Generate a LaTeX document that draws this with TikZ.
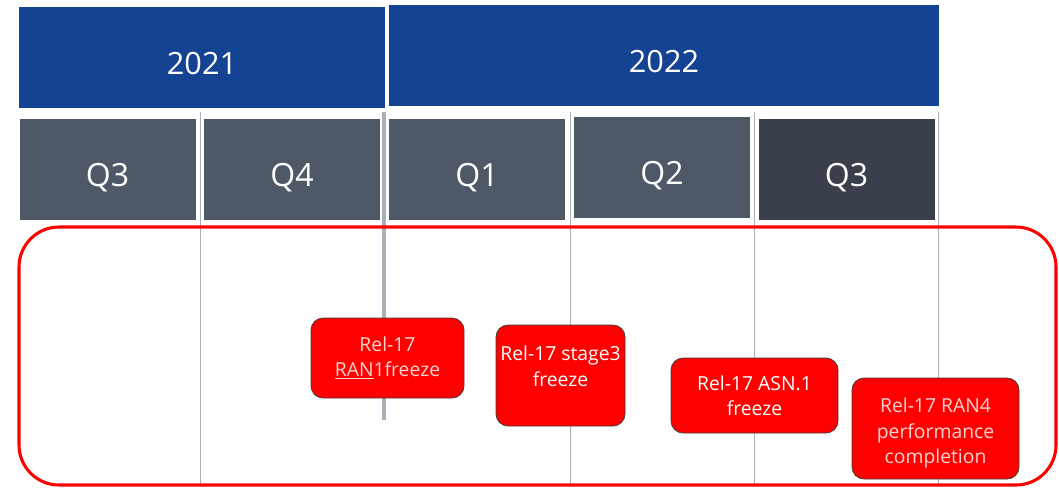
\documentclass[tikz,border=0pt]{standalone}
\usepackage{fontspec}
\setmainfont{Open Sans}
\usepackage{xcolor}
\definecolor{yearblue}{HTML}{144393}
\definecolor{qgray}{HTML}{4F5867}
\definecolor{qdark}{HTML}{3A404B}
\definecolor{sepgray}{HTML}{A9B0BB}
\definecolor{mred}{HTML}{FF0000}
\definecolor{paletext}{HTML}{FFD2D2}
\begin{document}
\begin{tikzpicture}[x=0.75pt,y=-0.75pt,
  yearbox/.style={rectangle,fill=yearblue,text=white,inner sep=0pt,text height=25.4pt,text depth=0pt,font=\fontsize{23}{28}\selectfont},
  qbox/.style={rectangle,fill=qgray,text=white,inner sep=0pt,minimum width=132pt,minimum height=75.75pt,text height=26.1pt,text depth=0pt,font=\fontsize{24}{28}\selectfont},
  sepline/.style={draw=sepgray,line width=0.75pt},
  septhick/.style={draw=sepgray,line width=2.4pt},
  frame/.style={draw=mred,line width=2.3pt,rounded corners=30pt},
  mbox/.style={rectangle,rounded corners=9pt,fill=mred,draw=black!75,line width=0.6pt,inner sep=0pt,align=center,font=\fontsize{14.5}{19}\selectfont},
  mtext/.style={text=white,align=center,font=\fontsize{14.5}{19}\selectfont}
]
\useasboundingbox (0,0) rectangle (1059,487);
% separator coordinates
\coordinate (s1t) at (200,112); \coordinate (s1b) at (200,487);
\coordinate (s2t) at (570,112); \coordinate (s2b) at (570,487);
\coordinate (s3t) at (754,112); \coordinate (s3b) at (754,487);
\coordinate (s4t) at (938,112); \coordinate (s4b) at (938,487);
\coordinate (s0t) at (384,112); \coordinate (s0b) at (384,420);
\draw[sepline] (s1t) -- (s1b);
\draw[sepline] (s2t) -- (s2b);
\draw[sepline] (s3t) -- (s3b);
\draw[sepline] (s4t) -- (s4b);
\draw[septhick] (s0t) -- (s0b);
% years
\node[yearbox,minimum width=274.5pt,minimum height=75.75pt] (y2021) at (202,57.5) {2021};
\node[yearbox,minimum width=412.5pt,minimum height=75.75pt] (y2022) at (664,55.5) {2022};
% quarters
\node[qbox] (q3a) at (107.5,169.5) {Q3};
\node[qbox] (q4) at (292,169.5) {Q4};
\node[qbox] (q1) at (477,169.5) {Q1};
\node[qbox] (q2) at (662,167.5) {Q2};
\node[qbox,fill=qdark] (q3b) at (846.5,169.5) {Q3};
% red frame
\coordinate (fa) at (19,227); \coordinate (fb) at (1056,485);
\draw[frame] (fa) rectangle (fb);
% milestones
\node[mbox,minimum width=114.75pt,minimum height=60pt,text=paletext] (m1) at (387.5,358)
  {Rel-17\\\underline{RAN}1freeze};
\node[mbox,minimum width=96.75pt,minimum height=75.75pt,
  label={[mtext,yshift=7pt]center:Rel-17 stage3\\freeze}] (m2) at (560.5,375.5) {};
\node[mbox,minimum width=125.25pt,minimum height=56.25pt,text=white] (m3) at (754.5,395.5)
  {Rel-17 ASN.1\\freeze};
\node[mbox,minimum width=125.25pt,minimum height=75.75pt,
  label={[mtext,text=paletext,yshift=-3.5pt]center:Rel-17 RAN4\\performance\\completion}] (m4) at (935.5,428.5) {};
\end{tikzpicture}
\end{document}
